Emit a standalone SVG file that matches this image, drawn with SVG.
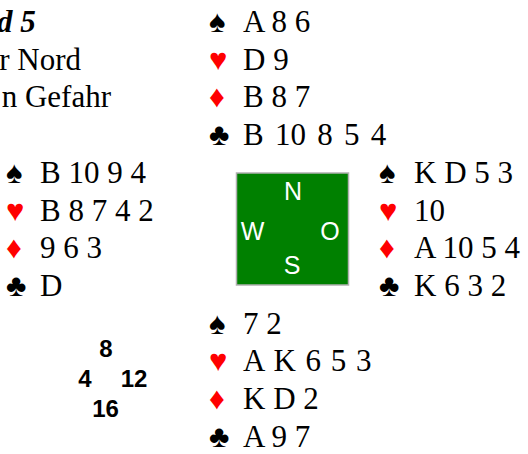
<svg xmlns="http://www.w3.org/2000/svg" width="528" height="454" viewBox="0 0 528 454">
<style>
.t{font-family:"Liberation Serif","Times New Roman",serif;font-size:31px;fill:#000}
.s{font-family:"Liberation Serif","DejaVu Sans",serif;font-size:31px}
.b{fill:#000}
.r{fill:#ff0000}
.c{font-family:"Liberation Sans",Arial,sans-serif;font-size:25px;fill:#fff;text-anchor:middle}
.n{font-family:"Liberation Sans",Arial,sans-serif;font-size:24px;font-weight:bold;fill:#000;text-anchor:middle}
</style>
<rect width="528" height="454" fill="#fff"/>
<g id="title" class="t">
<text x="-3" y="32" font-weight="bold" font-style="italic">d 5</text>
<text x="81" y="69.7" text-anchor="end">r Nord</text>
<text x="111" y="107.4" text-anchor="end">n Gefahr</text>
</g>
<g id="north">
<text class="s b" x="209" y="32">♠</text><text class="t" x="243" y="32">A 8 6</text>
<text class="s r" x="209" y="69.7">♥</text><text class="t" x="243" y="69.7">D 9</text>
<text class="s r" x="209" y="107.4">♦</text><text class="t" x="243" y="107.4">B 8 7</text>
<text class="s b" x="209" y="145.1">♣</text><text class="t" x="243" y="145.1" word-spacing="3.5">B 10 8 5 4</text>
</g>
<g id="west">
<text class="s b" x="6" y="182.8">♠</text><text class="t" x="40" y="182.8">B 10 9 4</text>
<text class="s r" x="6" y="220.5">♥</text><text class="t" x="40" y="220.5">B 8 7 4 2</text>
<text class="s r" x="6" y="258.2">♦</text><text class="t" x="40" y="258.2">9 6 3</text>
<text class="s b" x="6" y="295.9">♣</text><text class="t" x="40" y="295.9">D</text>
</g>
<g id="east">
<text class="s b" x="379" y="182.8">♠</text><text class="t" x="414" y="182.8">K D 5 3</text>
<text class="s r" x="379" y="220.5">♥</text><text class="t" x="414" y="220.5">10</text>
<text class="s r" x="379" y="258.2">♦</text><text class="t" x="414" y="258.2">A 10 5 4</text>
<text class="s b" x="379" y="295.9">♣</text><text class="t" x="414" y="295.9">K 6 3 2</text>
</g>
<g id="south">
<text class="s b" x="209" y="333.6">♠</text><text class="t" x="243" y="333.6">7 2</text>
<text class="s r" x="209" y="371.3">♥</text><text class="t" x="243" y="371.3" word-spacing="2">A K 6 5 3</text>
<text class="s r" x="209" y="409">♦</text><text class="t" x="243" y="409">K D 2</text>
<text class="s b" x="209" y="446.7">♣</text><text class="t" x="243" y="446.7">A 9 7</text>
</g>
<g id="compass">
<rect x="236.5" y="173" width="112" height="112" fill="#008000" stroke="#b0b0b0" stroke-width="1.5"/>
<text class="c" x="293" y="199.5">N</text>
<text class="c" x="252.5" y="239.5">W</text>
<text class="c" x="330" y="239.5">O</text>
<text class="c" x="292" y="274">S</text>
</g>
<g id="hcp">
<text class="n" x="106" y="357">8</text>
<text class="n" x="85" y="387">4</text>
<text class="n" x="134" y="387">12</text>
<text class="n" x="105.5" y="417">16</text>
</g>
</svg>
